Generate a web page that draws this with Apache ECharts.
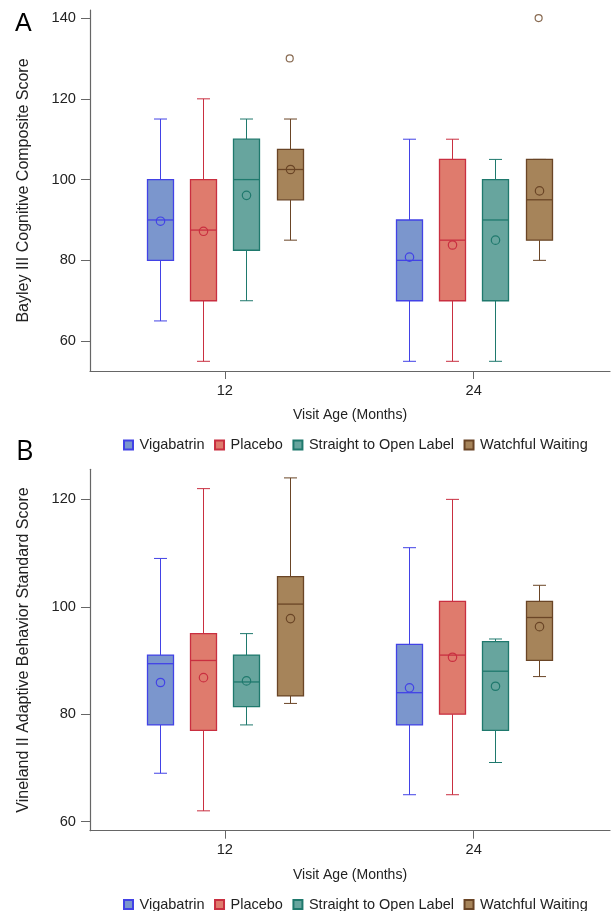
<!DOCTYPE html>
<html><head><meta charset="utf-8">
<script src="https://cdn.jsdelivr.net/npm/echarts@6/dist/echarts.min.js"></script>
<style>html,body{margin:0;padding:0;background:#fff}#c{width:613px;height:911px}</style>
</head><body><div id="c"></div>
<script>
// ---- data ----
const visits = [12, 24];
const visitTickLabels = ['12', '24'];
const groups = ['Vigabatrin', 'Placebo', 'Straight to Open Label', 'Watchful Waiting'];

// Panel A: Bayley III Cognitive Composite Score, [min, Q1, median, Q3, max] per visit
const bayleyVigabatrin = [[65, 80, 90, 100, 115], [55, 70, 80, 90, 110]];
const bayleyPlacebo = [[55, 70, 87.5, 100, 120], [55, 70, 85, 105, 110]];
const bayleyOpenLabel = [[70, 82.5, 100, 110, 115], [55, 70, 90, 100, 105]];
const bayleyWatchful = [[85, 95, 102.5, 107.5, 115], [80, 85, 95, 105, 105]];
const bayleyMeanVigabatrin = [89.7, 80.8];
const bayleyMeanPlacebo = [87.2, 83.8];
const bayleyMeanOpenLabel = [96.1, 85];
const bayleyMeanWatchful = [102.5, 97.2];
const bayleyOutliersWatchful = [[12, 130], [24, 140]];
const bayleyTicks = [60, 80, 100, 120, 140];

// Panel B: Vineland II Adaptive Behavior Standard Score
const vinelandVigabatrin = [[69, 78, 89.4, 91, 109], [65, 78, 84, 93, 111]];
const vinelandPlacebo = [[62, 77, 90, 95, 122], [65, 80, 91, 101, 120]];
const vinelandOpenLabel = [[78, 81.4, 86, 91, 95], [71, 77, 88, 93.5, 94]];
const vinelandWatchful = [[82, 83.4, 100.5, 105.6, 124], [87, 90, 98, 101, 104]];
const vinelandMeanVigabatrin = [85.9, 84.9];
const vinelandMeanPlacebo = [86.8, 90.6];
const vinelandMeanOpenLabel = [86.2, 85.2];
const vinelandMeanWatchful = [97.8, 96.3];
const vinelandTicks = [60, 80, 100, 120];

// ---- styling ----
const fills = ['#7b96cd', '#df7b6d', '#67a59e', '#a6845a'];
const strokes = ['#4242e6', '#c92f40', '#1f796d', '#6a4526'];
const offsets = [-64.9, -21.6, 21.6, 64.9];
const boxW = 26, capW = 13;

function renderBox(gi) {
  return function (params, api) {
    const v = api.value(0);
    const cx = Math.round(api.coord([v, 0])[0] + offsets[gi]) + 0.5;
    const y = i => api.coord([v, api.value(i)])[1];
    const yMin = y(1), yQ1 = y(2), yMed = y(3), yQ3 = y(4), yMax = y(5), yMean = y(6);
    const st = { stroke: strokes[gi], lineWidth: 1 };
    return {
      type: 'group',
      children: [
        { type: 'line', shape: { x1: cx, y1: yMax, x2: cx, y2: yQ3 }, style: st },
        { type: 'line', shape: { x1: cx, y1: yQ1, x2: cx, y2: yMin }, style: st },
        { type: 'line', shape: { x1: cx - capW / 2, y1: yMax, x2: cx + capW / 2, y2: yMax }, style: st },
        { type: 'line', shape: { x1: cx - capW / 2, y1: yMin, x2: cx + capW / 2, y2: yMin }, style: st },
        { type: 'rect', shape: { x: cx - boxW / 2, y: yQ3, width: boxW, height: yQ1 - yQ3 },
          style: { fill: fills[gi], stroke: strokes[gi], lineWidth: 1.3 } },
        { type: 'line', shape: { x1: cx - boxW / 2, y1: yMed, x2: cx + boxW / 2, y2: yMed }, style: { stroke: strokes[gi], lineWidth: 1.3 } },
        { type: 'circle', shape: { cx: cx, cy: yMean, r: 4.2 }, style: { fill: 'none', stroke: strokes[gi], lineWidth: 1.2 } }
      ]
    };
  };
}

function boxSeries(gi, stats, means, axisIdx) {
  return {
    type: 'custom', name: groups[gi], xAxisIndex: axisIdx, yAxisIndex: axisIdx,
    itemStyle: { color: fills[gi], borderColor: strokes[gi], borderWidth: 1 },
    renderItem: renderBox(gi),
    encode: { x: 0, y: [1, 2, 3, 4, 5, 6] },
    data: visits.map((v, i) => [v].concat(stats[i]).concat([means[i]])),
    silent: true
  };
}

const panelA = [bayleyVigabatrin, bayleyPlacebo, bayleyOpenLabel, bayleyWatchful];
const panelAMeans = [bayleyMeanVigabatrin, bayleyMeanPlacebo, bayleyMeanOpenLabel, bayleyMeanWatchful];
const panelB = [vinelandVigabatrin, vinelandPlacebo, vinelandOpenLabel, vinelandWatchful];
const panelBMeans = [vinelandMeanVigabatrin, vinelandMeanPlacebo, vinelandMeanOpenLabel, vinelandMeanWatchful];

const series = [];
panelA.forEach((s, gi) => series.push(boxSeries(gi, s, panelAMeans[gi], 0)));
series.push({
  type: 'scatter', name: groups[3], xAxisIndex: 0, yAxisIndex: 0,
  data: bayleyOutliersWatchful, symbol: 'circle', symbolSize: 7,
  symbolOffset: [offsets[3], 0],
  itemStyle: { color: '#fff', borderColor: strokes[3], borderWidth: 1.2 }, silent: true
});
panelB.forEach((s, gi) => series.push(boxSeries(gi, s, panelBMeans[gi], 1)));

const font = 'Liberation Sans, Arial, sans-serif';
const fs = 14.67;
function xAxis(gridIndex) {
  return {
    type: 'value', gridIndex, min: 5.5, max: 30.57,
    axisLine: { lineStyle: { color: '#666', width: 1.2 } },
    axisTick: { show: true, length: 8, lineStyle: { color: '#666' }, customValues: visits },
    axisLabel: { customValues: visits, formatter: v => visitTickLabels[visits.indexOf(v)] || '', color: '#222', fontSize: fs, fontFamily: font, margin: 12 },
    splitLine: { show: false },
    name: 'Visit Age (Months)', nameLocation: 'middle', nameGap: 37,
    nameTextStyle: { color: '#222', fontSize: 14, fontFamily: font }
  };
}
function yAxis(gridIndex, min, max, ticks, name) {
  return {
    type: 'value', gridIndex, min, max,
    axisLine: { show: true, lineStyle: { color: '#666', width: 1.2 } },
    axisTick: { show: true, length: 9, lineStyle: { color: '#666' }, customValues: ticks },
    axisLabel: { customValues: ticks, color: '#222', fontSize: fs, fontFamily: font, margin: 14 },
    splitLine: { show: false },
    name, nameLocation: 'middle', nameGap: 58,
    nameTextStyle: { color: '#222', fontSize: 16, fontFamily: font }
  };
}
function legend(top) {
  return {
    data: groups, top, left: 123, padding: 0, itemWidth: 9, itemHeight: 9, itemGap: 9.5,
    icon: 'rect', selectedMode: false,
    textStyle: { color: '#222', fontSize: 14.5, fontFamily: font, padding: [0, 0, 0, 1.5] }
  };
}

const chart = echarts.init(document.getElementById('c'), null, { renderer: 'canvas' });
chart.setOption({
  animation: false,
  backgroundColor: '#fff',
  grid: [
    { left: 90, right: 3, top: 10, bottom: 540 },
    { left: 90, right: 3, top: 469.3, bottom: 80.3 }
  ],
  xAxis: [xAxis(0), xAxis(1)],
  yAxis: [
    yAxis(0, 52.6, 142, bayleyTicks, 'Bayley III Cognitive Composite Score'),
    yAxis(1, 58.3, 125.6, vinelandTicks, 'Vineland II Adaptive Behavior Standard Score')
  ],
  legend: [legend(437.5), legend(897)],
  graphic: [
    { type: 'text', left: 15, top: 12, style: { text: 'A', fontSize: 25, fontFamily: font, fill: '#000' } },
    { type: 'text', left: 16, top: 439, style: { text: 'B', fontSize: 27, fontFamily: 'Open Sans, sans-serif', fill: '#000' } }
  ],
  series
});
</script></body></html>
